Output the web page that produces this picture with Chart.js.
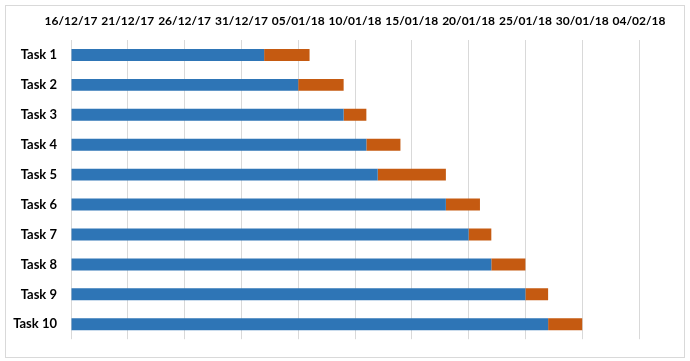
<!DOCTYPE html>
<html>
<head>
<meta charset="utf-8">
<script src="https://cdn.jsdelivr.net/npm/chart.js@4/dist/chart.umd.min.js"></script>
<style>
  body { margin: 0; background: #fff; }
  #wrap { position: relative; width: 690px; height: 361px; }
  #frame { position: absolute; left: 5px; top: 5px; width: 678px; height: 351px; border: 1px solid #d9d9d9; }
  #gantt { position: absolute; left: 0; top: 0; }
</style>
</head>
<body>
<div id="wrap">
  <div id="frame"></div>
  <canvas id="gantt" width="690" height="361"></canvas>
</div>
<script>
'use strict';

const tasks = ['Task 1', 'Task 2', 'Task 3', 'Task 4', 'Task 5',
	       'Task 6', 'Task 7', 'Task 8', 'Task 9', 'Task 10'];

const startDates = ['2018-01-02', '2018-01-05', '2018-01-09', '2018-01-11', '2018-01-12',
		    '2018-01-18', '2018-01-20', '2018-01-22', '2018-01-25', '2018-01-27'];

const durations = [4, 4, 2, 3, 6, 3, 2, 3, 2, 3];

const axisStart = '2017-12-16';
const axisDays = 50;
const tickStep = 5;

const dayMs = 86400000;

function dayOffset(s) {
    return (Date.parse(s) - Date.parse(axisStart)) / dayMs;
}

function fmtDate(offset) {
    const d = new Date(Date.parse(axisStart) + offset * dayMs);
    const dd = String(d.getUTCDate()).padStart(2, '0');
    const mm = String(d.getUTCMonth() + 1).padStart(2, '0');
    const yy = String(d.getUTCFullYear() % 100).padStart(2, '0');
    return `${dd}/${mm}/${yy}`;
}

const ganttConfig = {
    type: 'bar',
    data: {
	labels: tasks,
	datasets: [{
	    label: 'Start',
	    data: startDates.map(dayOffset),
	    backgroundColor: '#2E75B6',
	    barPercentage: 0.4,
	    categoryPercentage: 1,
	}, {
	    label: 'Duration',
	    data: durations,
	    backgroundColor: '#C55A11',
	    barPercentage: 0.4,
	    categoryPercentage: 1,
	}],
    },
    options: {
	indexAxis: 'y',
	responsive: false,
	animation: false,
	layout: {
	    padding: { left: 0, right: 51, top: 0, bottom: 21 },
	},
	plugins: {
	    legend: { display: false },
	    tooltip: { enabled: false },
	},
	scales: {
	    x: {
		position: 'top',
		stacked: true,
		min: 0,
		max: axisDays,
		afterFit: s => { s.height = 40; },
		border: { display: false },
		grid: { color: '#d9d9d9', drawTicks: false },
		ticks: {
		    stepSize: tickStep,
		    padding: 12,
		    color: '#000',
		    font: { family: 'Lato', size: 12, weight: 'bold' },
		    maxRotation: 0,
		    autoSkip: false,
		    callback: v => fmtDate(v),
		},
	    },
	    y: {
		stacked: true,
		afterFit: s => { s.width = 71; },
		border: { display: false },
		grid: { display: false, drawTicks: false },
		ticks: {
		    padding: 14,
		    color: '#000',
		    font: { family: 'Lato', size: 13, weight: 'bold' },
		},
	    },
	},
    },
};

new Chart(document.querySelector('#gantt'), ganttConfig);
</script>
</body>
</html>
